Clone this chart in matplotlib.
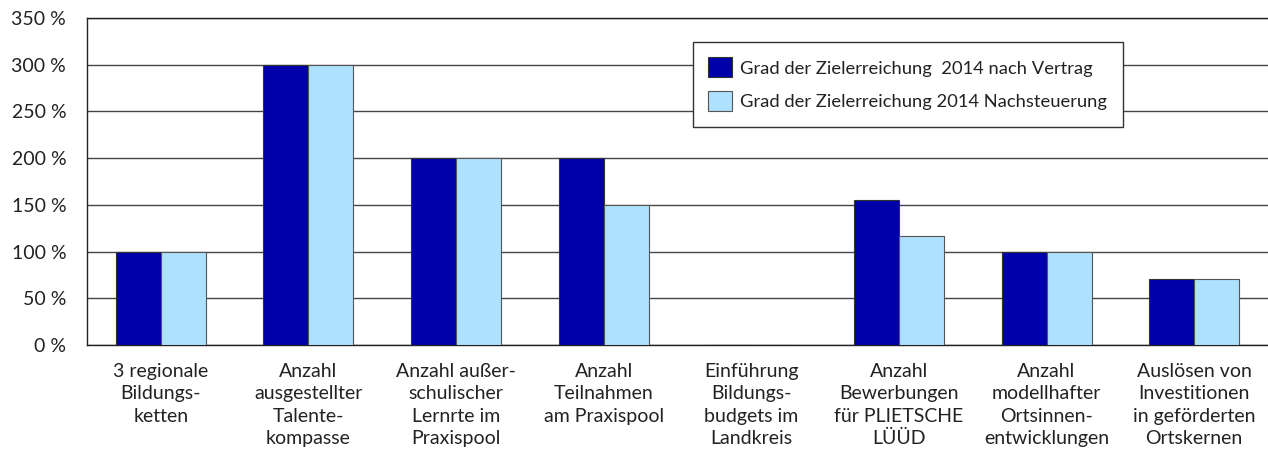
import numpy as np
from matplotlib import pyplot as plt

plt.rcParams["font.family"] = ["Lato", "DejaVu Sans"]

kategorien = [
    "3 regionale\nBildungs-\nketten",
    "Anzahl\nausgestellter\nTalente-\nkompasse",
    "Anzahl außer-\nschulischer\nLernrte im\nPraxispool",
    "Anzahl\nTeilnahmen\nam Praxispool",
    "Einführung\nBildungs-\nbudgets im\nLandkreis",
    "Anzahl\nBewerbungen\nfür PLIETSCHE\nLÜÜD",
    "Anzahl\nmodellhafter\nOrtsinnen-\nentwicklungen",
    "Auslösen von\nInvestitionen\nin geförderten\nOrtskernen",
]
nach_vertrag = [100, 300, 200, 200, 0, 155, 100, 71]
nachsteuerung = [100, 300, 200, 150, 0, 117, 100, 71]
y_ticks = [0, 50, 100, 150, 200, 250, 300, 350]

fs = 14

fig = plt.figure(figsize=(12.68, 4.59), dpi=100)
ax = fig.add_axes([0.0686, 0.248, 0.9314, 0.713])

x = np.arange(len(kategorien))
breite = 0.305
ax.bar(x - breite / 2, nach_vertrag, breite, color="#0000AA", edgecolor="#333333",
       linewidth=0.8, label="Grad der Zielerreichung  2014 nach Vertrag", zorder=3)
ax.bar(x + breite / 2, nachsteuerung, breite, color="#AEE0FF", edgecolor="#555555",
       linewidth=0.8, label="Grad der Zielerreichung 2014 Nachsteuerung", zorder=3)

ax.set_xlim(-0.5, len(kategorien) - 0.5)
ax.set_ylim(0, 350)
ax.set_yticks(y_ticks)
ax.set_yticklabels([f"{v} %" for v in y_ticks], fontsize=fs, color="#222222")
ax.yaxis.grid(True, color="#444444", linewidth=1.0, zorder=0)
ax.tick_params(axis="y", length=0, pad=15)
ax.tick_params(axis="x", length=0)
ax.set_xticks(x)
ax.set_xticklabels([])
for xi, txt in zip(x, kategorien):
    ax.text(xi, -19, txt, ha="center", va="top", fontsize=fs, color="#222222",
            linespacing=1.38, transform=ax.transData)

for s in ["left", "bottom", "top"]:
    ax.spines[s].set_color("#222222")
    ax.spines[s].set_linewidth(1.0)
ax.spines["right"].set_visible(False)

leg = ax.legend(loc="upper right", bbox_to_anchor=(0.877, 0.927), fontsize=13.2,
                frameon=True, fancybox=False, edgecolor="#333333", framealpha=1,
                handlelength=1.3, handleheight=1.3, handletextpad=0.45,
                borderpad=0.85, labelspacing=0.75, borderaxespad=0)
leg.get_frame().set_linewidth(1.0)
for t in leg.get_texts():
    t.set_color("#222222")

fig.savefig("out.png", dpi=100)
